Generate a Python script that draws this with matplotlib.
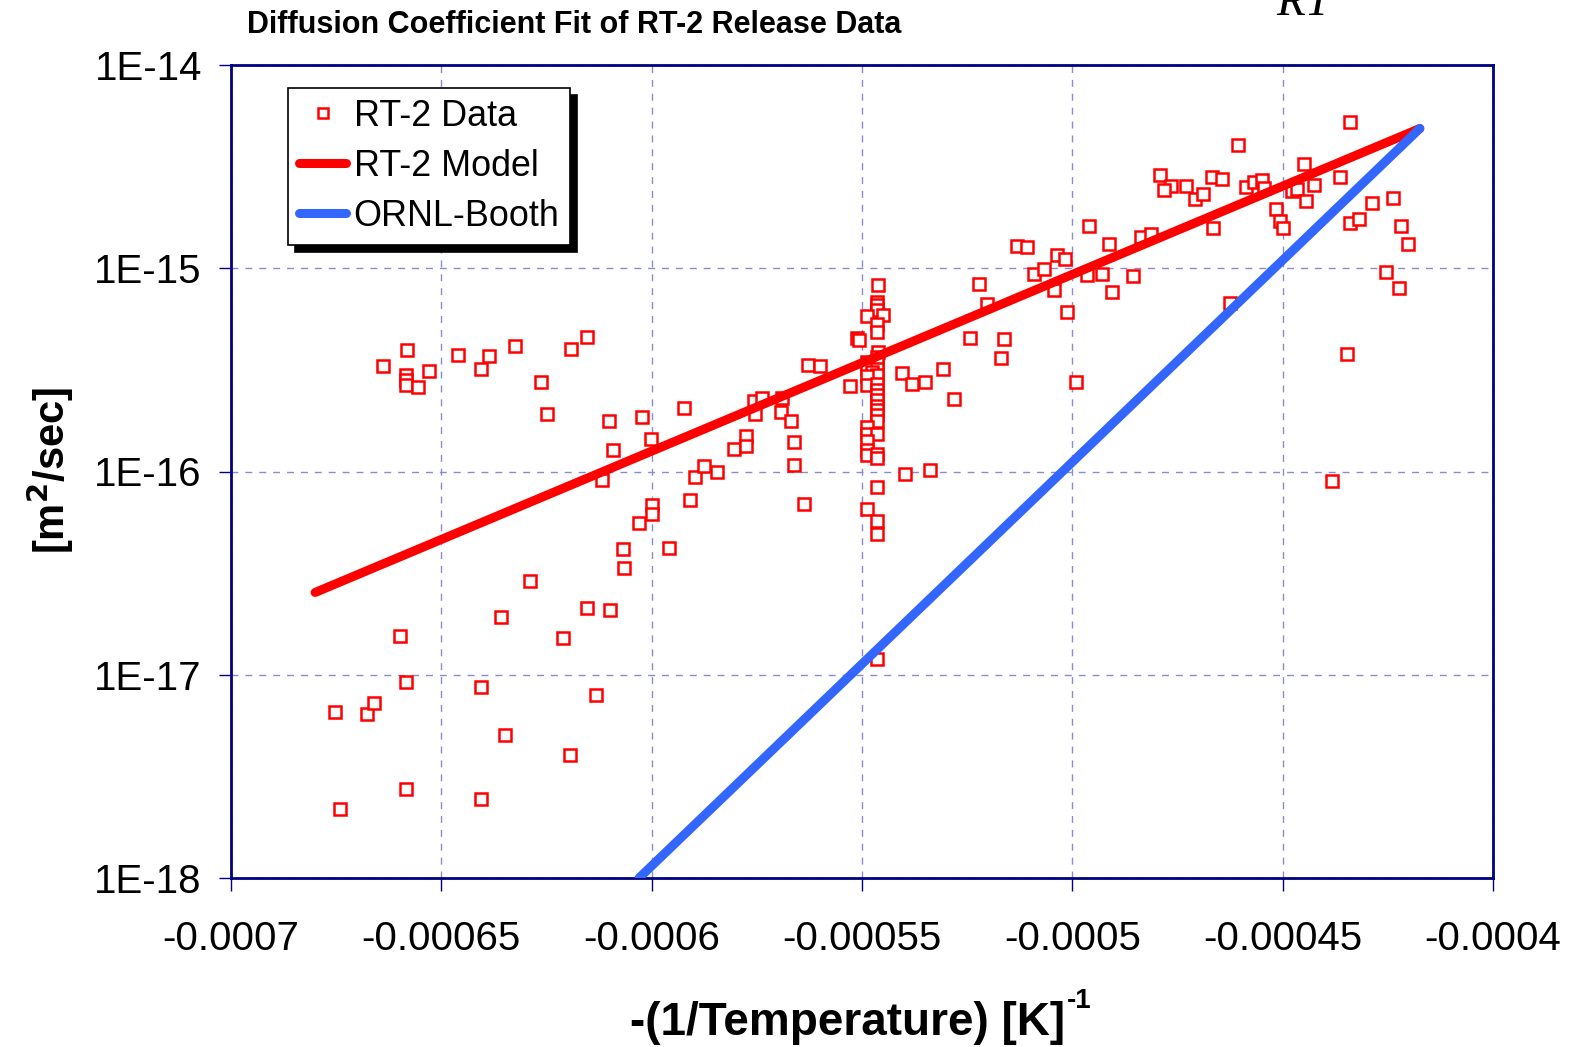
import matplotlib
matplotlib.use("Agg")
import matplotlib.pyplot as plt
import numpy as np

plt.rcParams['font.family'] = ['Liberation Sans', 'DejaVu Sans']

# ---- data: x in units of 1e-6 1/K (negative inverse temperature), D in m^2/s ----
data_x_u = [
    -674.1, -675.3, -667.7, -666.1, -658.4, -659.8, -658.4, -663.9, -658.2, -658.5,
    -658.5, -658.5, -655.6, -653.0, -646.0, -638.6, -640.5, -632.4, -619.2, -615.4,
    -626.3, -624.9, -610.2, -602.2, -609.3, -611.9, -600.2, -599.9, -599.9, -603.0,
    -606.8, -606.5, -629.0, -615.4, -609.8, -635.8, -621.0, -640.6, -613.2, -634.8,
    -619.4, -640.6,
    -592.2, -595.8, -590.8, -589.8, -587.6, -584.5, -580.4, -577.6, -577.6, -575.7,
    -573.8, -575.4, -568.9, -569.3, -566.8, -566.2, -566.2, -563.9, -562.8, -560.0,
    -552.9, -551.2, -550.6,
    -546.1, -546.4, -546.4, -546.4, -548.7, -545.1, -546.4, -546.4, -546.1, -546.4,
    -546.4, -548.7, -548.7, -546.4, -547.6, -546.4, -548.7, -548.7, -546.4, -546.4,
    -546.4, -546.4, -546.4, -546.4, -546.4, -546.4, -548.7, -548.7, -546.4, -548.7,
    -548.7, -548.7, -546.4, -546.4, -546.4, -548.7, -546.4, -546.4, -546.4,
    -540.6, -538.0, -535.0, -530.7, -528.1, -539.8, -533.8, -524.4, -522.2, -520.2,
    -516.2, -516.9, -513.2, -510.7, -509.1, -506.7, -503.7, -501.7, -504.4, -501.2,
    -499.1, -496.1, -491.4, -496.4, -493.0, -490.6, -485.6, -483.6, -481.4, -479.2,
    -476.6, -478.1, -473.0, -470.8, -469.0, -466.9, -464.5, -466.6, -462.5, -460.5,
    -458.6, -456.8, -455.0, -454.4, -451.6, -450.6, -450.0, -447.7, -446.7, -444.9,
    -444.5, -442.6, -436.3, -433.9, -434.0, -431.8, -428.8, -423.8, -421.9, -420.3,
    -425.4, -422.4, -434.6, -438.3,
]
data_d = [
    2.18e-18, 6.53e-18, 6.38e-18, 7.23e-18, 9.20e-18, 1.55e-17, 2.73e-18, 3.30e-16, 3.94e-16, 2.99e-16,
    2.81e-16, 2.65e-16, 2.61e-16, 3.12e-16, 3.75e-16, 3.72e-16, 3.20e-16, 4.16e-16, 4.00e-16, 4.60e-16,
    2.77e-16, 1.92e-16, 1.78e-16, 1.86e-16, 1.27e-16, 9.04e-17, 1.44e-16, 6.81e-17, 6.20e-17, 5.57e-17,
    4.17e-17, 3.35e-17, 2.88e-17, 2.14e-17, 2.09e-17, 1.93e-17, 1.51e-17, 8.74e-18, 7.98e-18, 5.07e-18,
    4.03e-18, 2.46e-18,
    2.05e-16, 4.19e-17, 7.23e-17, 9.35e-17, 1.07e-16, 9.90e-17, 1.29e-16, 1.49e-16, 1.34e-16, 2.22e-16,
    2.30e-16, 1.92e-16, 2.30e-16, 1.96e-16, 1.78e-16, 1.39e-16, 1.08e-16, 6.95e-17, 3.36e-16, 3.29e-16,
    2.62e-16, 4.54e-16, 4.42e-16,
    8.26e-16, 6.81e-16, 6.56e-16, 6.20e-16, 5.79e-16, 5.86e-16, 5.33e-16, 4.85e-16, 3.87e-16, 3.64e-16,
    3.44e-16, 3.44e-16, 3.21e-16, 3.21e-16, 3.07e-16, 2.97e-16, 2.94e-16, 2.65e-16, 2.70e-16, 2.51e-16,
    2.37e-16, 2.24e-16, 2.11e-16, 2.00e-16, 1.89e-16, 1.78e-16, 1.65e-16, 1.53e-16, 1.53e-16, 1.42e-16,
    1.27e-16, 1.20e-16, 1.22e-16, 1.16e-16, 8.38e-17, 6.56e-17, 5.74e-17, 4.94e-17, 1.19e-17,
    3.06e-16, 2.70e-16, 2.75e-16, 3.21e-16, 2.28e-16, 9.68e-17, 1.02e-16, 4.53e-16, 8.32e-16, 6.68e-16,
    4.47e-16, 3.63e-16, 1.29e-15, 1.27e-15, 9.40e-16, 9.86e-16, 1.16e-15, 1.11e-15, 7.78e-16, 6.08e-16,
    2.75e-16, 1.62e-15, 1.32e-15, 9.22e-16, 9.42e-16, 7.62e-16, 9.18e-16, 1.42e-15, 1.47e-15, 2.88e-15,
    2.55e-15, 2.43e-15, 2.53e-15, 2.19e-15, 2.32e-15, 2.80e-15, 2.76e-15, 1.58e-15, 6.71e-16, 4.02e-15,
    2.52e-15, 2.65e-15, 2.73e-15, 2.49e-15, 1.95e-15, 1.71e-15, 1.57e-15, 2.39e-15, 2.46e-15, 3.27e-15,
    2.14e-15, 2.58e-15, 2.80e-15, 5.27e-15, 1.67e-15, 1.75e-15, 2.10e-15, 2.21e-15, 1.61e-15, 1.32e-15,
    9.53e-16, 8.02e-16, 3.77e-16, 8.97e-17,
]
data_x = [v * 1e-6 for v in data_x_u]

model_x = [-0.000680, -0.0004174]
model_d = [2.54e-17, 4.87e-15]
booth_x = [-0.000603, -0.0004174]
booth_d = [1.0e-18, 4.87e-15]

x_ticks = [-0.0007, -0.00065, -0.0006, -0.00055, -0.0005, -0.00045, -0.0004]
x_tick_labels = ['-0.0007', '-0.00065', '-0.0006', '-0.00055', '-0.0005', '-0.00045', '-0.0004']
y_ticks = [1e-18, 1e-17, 1e-16, 1e-15, 1e-14]
y_tick_labels = ['1E-18', '1E-17', '1E-16', '1E-15', '1E-14']

navy = '#000080'
W, H = 1569, 1047
fig = plt.figure(figsize=(W / 100, H / 100), dpi=100)
ax = fig.add_axes([231 / W, 1 - 878 / H, (1493 - 231) / W, (878 - 65) / H])
ax.set_yscale('log')
ax.set_xlim(-0.0007, -0.0004)
ax.set_ylim(1e-18, 1e-14)

ax.grid(True, which='major', linestyle=(0, (5, 5)), color='#8a8ad2', linewidth=1.0)
ax.set_axisbelow(True)

ax.plot(data_x, data_d, linestyle='none', marker='s', markersize=9.3,
        markerfacecolor='white', markeredgecolor='#ff0000', markeredgewidth=1.8,
        label='RT-2 Data', zorder=3, clip_on=False)
ax.plot(model_x, model_d, color='#ff0000', linewidth=6.5, solid_capstyle='round',
        label='RT-2 Model', zorder=4)
ax.plot(booth_x, booth_d, color='#3366ff', linewidth=6.5, solid_capstyle='round',
        label='ORNL-Booth', zorder=4)

ax.set_xticks(x_ticks)
ax.set_xticklabels(x_tick_labels)
ax.set_yticks(y_ticks)
ax.set_yticklabels(y_tick_labels)
ax.minorticks_off()
ax.tick_params(axis='both', direction='out', length=9, width=1.0, color=navy,
               labelsize=29, labelcolor='black')
ax.tick_params(axis='x', pad=21)
ax.tick_params(axis='y', pad=12)
for sp in ax.spines.values():
    sp.set_color(navy)
    sp.set_linewidth(2.0)

# axis titles
fig.text(1065 / W, 1 - 1035 / H, '-(1/Temperature) [K]', fontsize=33, fontweight='bold',
         ha='right', va='baseline')
fig.text(1067 / W, 1 - 1008 / H, '-1', fontsize=20, fontweight='bold',
         ha='left', va='baseline')
fig.text(50 / W, 1 - 470 / H, '[m$^{\\mathbf{2}}$/sec]', fontsize=30, fontweight='bold',
         rotation=90, ha='center', va='center')

leg = ax.legend(loc='upper left', bbox_to_anchor=(288 / W, 1 - 88 / H),
                bbox_transform=fig.transFigure, borderaxespad=0, fontsize=25.8,
                frameon=True, fancybox=False, edgecolor='black', framealpha=1,
                shadow={'color': 'black', 'alpha': 1, 'ox': 5, 'oy': -5},
                handlelength=1.33, handletextpad=0.2, borderpad=0.3, labelspacing=0.42,
                markerscale=0.7)
leg.get_frame().set_linewidth(1.2)

fig.text(247 / W, 1 - 33 / H, 'Diffusion Coefficient Fit of RT-2 Release Data',
         fontsize=22, fontweight='bold', ha='left', va='baseline')
fig.text(1276 / W, 1 - 15 / H, 'RT', fontsize=34, fontstyle='italic',
         family=['Liberation Serif', 'DejaVu Serif'], ha='left', va='baseline')

fig.savefig('out.png', dpi=100)
